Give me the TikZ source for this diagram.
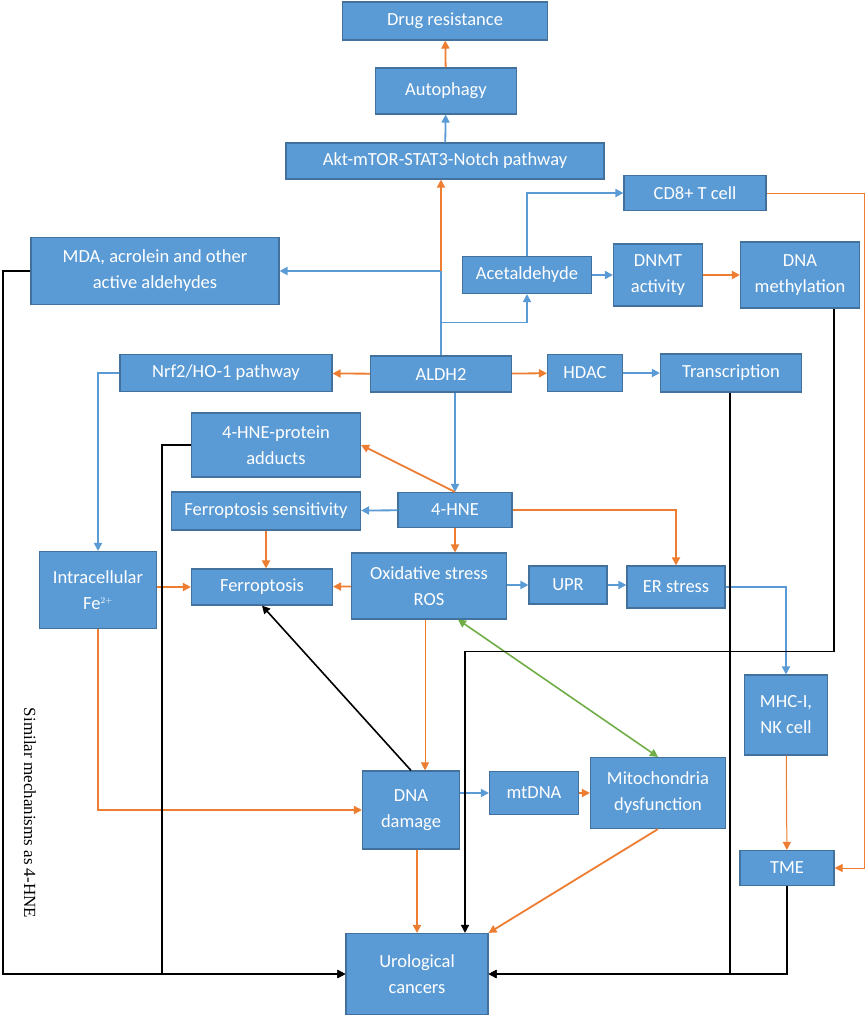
\documentclass[tikz,border=0pt]{standalone}
\usepackage{fontspec}
\setmainfont{Carlito}
\newfontfamily\serifrm{Liberation Serif}
\usetikzlibrary{arrows.meta}
\definecolor{boxblue}{RGB}{91,155,213}
\definecolor{boxedge}{RGB}{65,113,156}
\definecolor{lineblue}{RGB}{91,155,213}
\definecolor{lineorange}{RGB}{237,125,49}
\definecolor{linegreen}{RGB}{112,173,71}
\begin{document}
\begin{tikzpicture}[x=1pt,y=-1pt,
    box/.style 2 args={draw=boxedge,fill=boxblue,line width=1.1pt,text=white,align=center,
      inner sep=0pt,minimum width=#1pt,minimum height=#2pt,font=\fontsize{18.5}{26}\selectfont},
    tip/.style={-{Triangle[length=8pt,width=8pt]}},
    blu/.style={draw=lineblue,line width=1.8pt,tip},
    org/.style={draw=lineorange,line width=1.8pt,tip},
    orgthin/.style={draw=lineorange,line width=1pt,tip},
    blk/.style={draw=black,line width=1.6pt,tip},
    grn/.style={draw=linegreen,line width=1.6pt,{Triangle[length=8pt,width=8pt]}-{Triangle[length=8pt,width=8pt]}}]
  \useasboundingbox (0,0) rectangle (865,1017);

  % boxes
  \node[box={205}{38}] (drug) at (445,21) {Drug resistance};
  \node[box={141}{46}] (auto) at (446,91) {Autophagy};
  \node[box={318}{36}] (akt) at (445,161) {Akt-mTOR-STAT3-Notch pathway};
  \node[box={142}{35}] (cd8) at (695,193) {CD8+ T cell};
  \node[box={248}{67}] (mda) at (155,271) {MDA, acrolein and other\\active aldehydes};
  \node[box={129}{37}] (acet) at (527,275) {Acetaldehyde};
  \node[box={89}{62}] (dnmt) at (658,275) {DNMT\\activity};
  \node[box={119}{66}] (dnam) at (800,275) {DNA\\methylation};
  \node[box={212}{37}] (nrf) at (226,373) {Nrf2/HO-1 pathway};
  \node[box={141}{36}] (aldh) at (441,374) {ALDH2};
  \node[box={75}{37}] (hdac) at (585,373) {HDAC};
  \node[box={141}{38}] (trans) at (731,373) {Transcription};
  \node[box={169}{64}] (adduct) at (276,445) {4-HNE-protein\\adducts};
  \node[box={189}{38}] (fsens) at (266,511) {Ferroptosis sensitivity};
  \node[box={114}{35}] (hne) at (455,510) {4-HNE};
  \node[box={117}{77}] (fe) at (98,590) {Intracellular\\Fe$^{\scriptscriptstyle 2+}$};
  \node[box={141}{36}] (ferro) at (262,587) {Ferroptosis};
  \node[box={155}{66}] (ox) at (429,586) {Oxidative stress\\ROS};
  \node[box={78}{38}] (upr) at (568,585) {UPR};
  \node[box={98}{42}] (er) at (676,587) {ER stress};
  \node[box={83}{80}] (mhc) at (786,715) {MHC-I,\\NK cell};
  \node[box={97}{78}] (dnad) at (411,810) {DNA\\damage};
  \node[box={89}{43}] (mt) at (534,793) {mtDNA};
  \node[box={135}{71}] (mito) at (658,793) {Mitochondria\\dysfunction};
  \node[box={94}{35}] (tme) at (787,868) {TME};
  \node[box={142}{81}] (uro) at (417,974) {Urological\\cancers};

  \node[font=\serifrm\fontsize{17}{20}\selectfont,rotate=-90] (note) at (30,813) {Similar mechanisms as 4-HNE};

  % top column
  \draw[org] (auto) -- (drug);
  \draw[blu] (akt) -- (auto);
  \coordinate (trunk) at (aldh.north |- mda.east);
  \draw[blu,-] (aldh.north) -- (trunk);
  \draw[blu] (trunk) -- (mda.east);
  \draw[org] (trunk) -- (trunk |- akt.south);
  \draw[blu] (aldh.north) ++(0,-33) -| (acet.south);
  \draw[blu] (acet.north) |- (cd8.west);
  \draw[blu] (acet) -- (dnmt);
  \draw[org,line width=2.4pt] (dnmt) -- (dnam);
  \draw[orgthin] (cd8.east) -- (864,193) |- (tme.east);

  % ALDH2 row
  \draw[org] (aldh) -- (nrf);
  \draw[org] (aldh) -- (hdac);
  \draw[blu] (hdac) -- (trans);
  \draw[blu] (nrf.west) -| (fe.north);
  \draw[blu] (hne.north |- aldh.south) -- (hne.north);

  % 4-HNE
  \draw[org] (hne.north) -- (adduct.east);
  \draw[blu] (hne) -- (fsens);
  \draw[org] (hne.south) -- (hne.south |- ox.north);
  \draw[org] (hne.east) -| (er.north);
  \draw[org] (fsens.south) -- (fsens.south |- ferro.north);
  \draw[org] (fe.east |- ferro) -- (ferro);
  \draw[org] (ox) -- (ferro);
  \draw[blu] (ox.east |- upr) -- (upr);
  \draw[blu] (upr) -- (er.west |- upr);
  \draw[blu] (er.east) -| (mhc.north);

  % lower part
  \draw[org] (fe.south) |- (dnad.west);
  \draw[orgthin] ([xshift=-4]ox.south) -- ([xshift=-4]ox.south |- dnad.north);
  \draw[blk] (dnad.north) -- (ferro.south);
  \draw[grn] ([xshift=29]ox.south) -- (mito.north);
  \draw[blu] (dnad.east |- mt) -- (mt);
  \draw[org] (mt) -- (mito.west |- mt);
  \draw[org] (uro.north |- dnad.south) -- (uro.north);
  \draw[org] (mito.south) -- (uro.north east);
  \draw[orgthin] (mhc) -- (tme);

  % black lines to cancers
  \draw[blk] (mda.west) -- (3,271) |- (uro.west);
  \draw[blk] (adduct.west) -- (162,445) |- (uro.west);
  \draw[blk] ([xshift=34]dnam.south) -- ++(0,343) -| ([xshift=48]uro.north);
  \draw[blk] ([xshift=-1]trans.south) |- (uro.east);
  \draw[blk] (tme.south) |- (uro.east);
\end{tikzpicture}
\end{document}
